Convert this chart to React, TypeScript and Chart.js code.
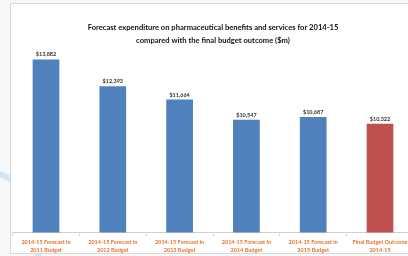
import React, { useEffect, useRef } from "react";
import { Chart, registerables } from "chart.js";

Chart.register(...registerables);

const categories: string[][] = [
  ["2014-15 Forecast in", "2011 Budget"],
  ["2014-15 Forecast in", "2012 Budget"],
  ["2014-15 Forecast in", "2013 Budget"],
  ["2014-15 Forecast in", "2014 Budget"],
  ["2014-15 Forecast in", "2015 Budget"],
  ["Final Budget Outcome", "2014-15"],
];
const values: number[] = [13882, 12393, 11664, 10547, 10687, 10322];
const valueLabels: string[] = ["$13,882", "$12,393", "$11,664", "$10,547", "$10,687", "$10,322"];
const barColors: string[] = ["#4F81BD", "#4F81BD", "#4F81BD", "#4F81BD", "#4F81BD", "#C0504D"];
const titleLines: string[] = [
  "Forecast expenditure on pharmaceutical benefits and services for 2014-15",
  "compared with the final budget outcome ($m)",
];
const Y_MIN = 4300;
const Y_MAX = 14400;

const valueLabelPlugin = {
  id: "valueLabels",
  afterDatasetsDraw(chart: any) {
    const ctx = chart.ctx;
    const meta = chart.getDatasetMeta(0);
    ctx.save();
    ctx.font = "bold 5.5px Lato";
    ctx.fillStyle = "#333333";
    ctx.textAlign = "center";
    ctx.textBaseline = "bottom";
    meta.data.forEach((el: any, i: number) => {
      ctx.fillText(valueLabels[i], el.x, el.y - 2);
    });
    ctx.restore();
  },
};

export default function App() {
  const ref = useRef<HTMLCanvasElement | null>(null);
  useEffect(() => {
    if (!ref.current) return;
    const chart = new Chart(ref.current, {
      type: "bar",
      data: {
        labels: categories,
        datasets: [
          {
            data: values,
            backgroundColor: barColors,
            borderWidth: 0,
            barPercentage: 0.4,
            categoryPercentage: 1,
          },
        ],
      },
      options: {
        responsive: false,
        animation: false,
        layout: { padding: { left: 12.6, right: 6.6, top: 0, bottom: 0 } },
        plugins: {
          legend: { display: false },
          tooltip: { enabled: false },
          title: {
            display: true,
            text: titleLines,
            color: "#111111",
            font: { family: "Lato", size: 7.6, weight: "bold", lineHeight: 1.75 },
            padding: { top: 20.5, bottom: 3 },
          },
        },
        scales: {
          x: {
            grid: {
              display: true,
              drawOnChartArea: false,
              drawTicks: true,
              tickLength: 4,
              color: "#d9d9d9",
            },
            border: { display: true, color: "#d0d0d0" },
            ticks: {
              color: "#E8732A",
              font: { family: "Lato", size: 5.5, weight: "bold", lineHeight: 1.6 },
              padding: 1,
              maxRotation: 0,
              autoSkip: false,
            },
          },
          y: {
            display: false,
            min: Y_MIN,
            max: Y_MAX,
          },
        },
      },
      plugins: [valueLabelPlugin],
    });
    return () => chart.destroy();
  }, []);

  return (
    <div
      style={{
        position: "fixed",
        left: 0,
        top: 0,
        width: 408,
        height: 256,
        overflow: "hidden",
        background: "#f7f8f9",
      }}
    >
      <div
        style={{
          position: "absolute",
          left: -60,
          top: 170,
          width: 90,
          height: 140,
          borderRadius: "50%",
          border: "6px solid rgba(170,210,235,0.45)",
        }}
      />
      <div
        style={{
          position: "absolute",
          left: 10,
          top: 3,
          width: 420,
          height: 249,
          background: "#ffffff",
          border: "1px solid #d8d8d8",
        }}
      />
      <canvas
        ref={ref}
        width={420}
        height={256}
        style={{ position: "absolute", left: 0, top: 0, width: 420, height: 256 }}
      />
    </div>
  );
}
